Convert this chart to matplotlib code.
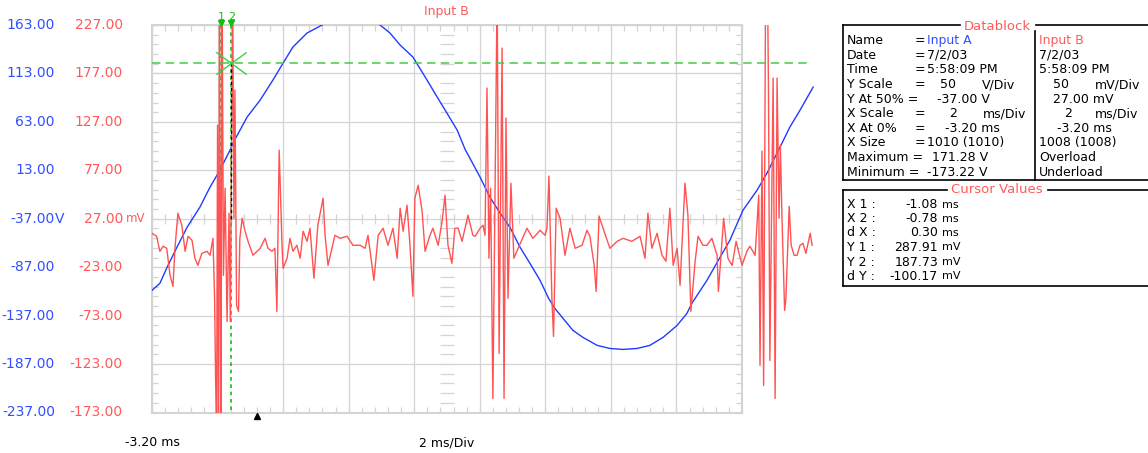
import numpy as np
import matplotlib

matplotlib.use("Agg")
import matplotlib.pyplot as plt  # noqa: E402
from matplotlib.lines import Line2D  # noqa: E402
from matplotlib.patches import Rectangle  # noqa: E402
from matplotlib.path import Path  # noqa: E402

W, H = 1148, 453

BLUE = "#1f3cff"
BLUE_TXT = "#3050ff"
RED = "#ff5252"
RED_TXT = "#ff5a5a"
GRID = "#d4d4d4"
GREEN = "#10c010"
GREEN_H = "#44cc44"
INK = "#000000"

# scope settings
X_START = -3.20
MS_PER_DIV = 2
N_XDIV = 9
V_AT_50 = -37.0
MV_AT_50 = 27.0
V_PER_DIV = 50
MV_PER_DIV = 50
N_YDIV = 8

blue_ticks = [163, 113, 63, 13, -37, -87, -137, -187, -237]
red_ticks = [227, 177, 127, 77, 27, -23, -73, -123, -173]

# Input A (V)
time_a = [-3.20, -2.96, -2.74, -2.44, -2.13, -1.74, -1.43, -1.13, -0.82, -0.73,
          -0.30, 0.10, 0.49, 0.80, 1.10, 1.53, 2.02, 2.44, 2.87, 3.30,
          3.76, 4.06, 4.37, 4.76, 5.19, 5.50, 5.80, 6.11, 6.35, 6.81,
          7.11, 7.42, 7.72, 8.03, 8.33, 8.64, 8.90, 9.09, 9.34, 9.64,
          9.95, 10.38, 10.77, 11.17, 11.60, 11.99, 12.39, 12.82, 13.12, 13.27,
          13.73, 14.13, 14.43, 14.83, 15.26, 15.56, 15.96, 16.26, 16.57, 16.97]
volt_a = [-110.9, -103.7, -87.1, -66.5, -45.8, -25.1, -4.4, 13.1, 33.8, 41.0,
          67.9, 85.5, 106.2, 123.7, 140.3, 154.7, 163.5, 169.5, 171.3, 169.0,
          163.0, 154.7, 142.3, 129.9, 106.2, 88.6, 72.0, 54.5, 34.8, 5.9,
          -14.8, -31.3, -45.8, -66.5, -83.0, -100.6, -119.2, -129.5, -139.8, -152.2,
          -159.5, -167.7, -170.9, -171.9, -170.9, -167.7, -159.5, -147.1, -134.7, -124.3,
          -100.6, -76.8, -59.2, -28.2, -7.5, 10.0, 36.9, 57.6, 75.1, 98.9]

# Input B (mV)
time_b = [
    -3.20, -3.06, -2.96, -2.86, -2.75, -2.65, -2.56, -2.50, -2.41, -2.29,
    -2.19, -2.10, -1.98, -1.89, -1.80, -1.68, -1.52, -1.43, -1.34,
    -1.29, -1.26, -1.23, -1.20, -1.17, -1.14, -1.10, -1.06, -1.02, -0.97,
    -0.91, -0.85, -0.81, -0.74, -0.70, -0.67, -0.62, -0.56, -0.52, -0.45, -0.36,
    -0.27, -0.12, 0.10, 0.25, 0.34, 0.46, 0.55, 0.61, 0.68, 0.77,
    0.80, 0.92, 1.01, 1.10, 1.22, 1.32, 1.41, 1.53, 1.62, 1.74,
    1.86, 2.02, 2.08, 2.17, 2.29, 2.38, 2.54, 2.75, 2.93, 3.15,
    3.30, 3.39, 3.57, 3.70, 3.85, 4.00, 4.15, 4.28, 4.37, 4.46,
    4.58, 4.67, 4.76, 4.82, 4.92, 5.04, 5.13, 5.28, 5.37, 5.53,
    5.65, 5.74, 5.83, 5.95, 6.04, 6.14, 6.26, 6.44, 6.59, 6.66,
    6.81, 6.90, 6.96,
    7.02, 7.08, 7.13, 7.20, 7.26, 7.33, 7.39, 7.48, 7.54, 7.60,
    7.66, 7.75, 7.84,
    7.97, 8.24, 8.42, 8.64, 8.79, 8.85, 8.91, 9.00, 9.05, 9.13,
    9.25, 9.40, 9.55, 9.71, 9.92, 10.07, 10.16, 10.29, 10.35, 10.44,
    10.56, 10.77, 10.99, 11.17, 11.44, 11.69, 11.84, 11.93, 12.05, 12.21,
    12.36, 12.48, 12.60, 12.70, 12.82, 12.91, 13.06, 13.15, 13.24, 13.37,
    13.46, 13.61, 13.73, 13.88, 14.04, 14.08, 14.19, 14.24, 14.37, 14.50,
    14.62, 14.80, 14.95, 15.04, 15.20,
    15.31, 15.35, 15.41, 15.46, 15.52, 15.58, 15.61, 15.65, 15.75, 15.81,
    15.87, 15.93, 15.97, 16.02, 16.10, 16.14, 16.24, 16.30, 16.39, 16.48,
    16.57, 16.66, 16.75, 16.88, 16.94,
]
mv_b = [
    12.0, 8.9, -6.6, -1.4, -3.5, -31.4, -42.8, -3.5, 32.7, 20.3,
    -6.6, 8.9, 4.7, -13.8, -21.1, -8.7, -6.6, -10.7, 6.8,
    -55.2, -137.9, -200.0, 123.6, -200.0, 265.0, -220.0, 270.0, -31.4, 58.5,
    -79.0, 32.7, -79.0, 265.0, 27.5, 159.8, -62.4, -68.6, 6.8, 27.5, 14.1,
    3.7, -10.7, -3.5, 6.8, -3.5, -6.6, -3.5, -68.6, 97.8, -3.5,
    -24.2, -13.8, 6.8, -6.6, -0.4, -13.8, 14.1, 3.7, 17.2, -34.5,
    20.3, 48.2, 9.9, -21.1, -3.5, 9.9, 6.8, 8.9, -0.4, -0.4,
    -3.5, 9.9, -36.6, 9.9, 17.2, -0.4, 17.2, -13.8, 37.9, 14.1,
    41.0, -0.4, -53.1, 48.2, 61.6, 34.8, -6.6, 9.9, 17.2, -0.4,
    24.4, 51.3, -0.4, -19.0, 17.2, 17.2, 3.7, 30.6, 9.9, 8.9,
    17.2, 20.3, 9.9,
    161.9, -13.8, 58.5, -158.5, 37.9, 265.0, -112.0, 203.2, -158.5, 130.9,
    -55.2, 63.7, -13.8,
    -3.5, 17.2, 6.8, 15.1, 9.9, 17.2, 71.0, -55.2, -94.5, 37.9,
    27.5, -10.7, 17.2, -3.5, -0.4, 15.1, 8.9, -21.1, -48.0, 29.6,
    17.2, -3.5, 3.7, 6.8, 3.7, 8.9, -13.8, 32.7, -3.5, 12.0,
    -10.7, -16.9, 37.9, -21.1, -3.5, -41.7, 63.7, 30.6, -68.6, -16.9,
    8.9, -0.4, -0.4, 6.8, -10.7, -48.0, 3.7, 27.5, -13.8, -21.1,
    3.7, -21.1, -6.6, -1.4, -10.7,
    51.3, -124.4, 96.8, -145.1, 265.0, 265.0, 148.4, -119.3, 172.2, -158.5,
    172.2, 27.5, 103.0, 27.5, -67.6, -55.2, 39.9, -0.4, -10.7, -10.7,
    -0.4, 1.7, -8.7, 12.0, -0.4,
]

# cursors
cursor_x = [-1.08, -0.78]
cursor_y = [287.91, 187.73]
trigger_t = 0.0

# datablock text
block_rows = ["Name", "Date", "Time", "Y Scale", "Y At 50% =", "X Scale", "X At 0%",
              "X Size", "Maximum =", "Minimum ="]
cursor_rows = ["X 1 :", "X 2 :", "d X :", "Y 1 :", "Y 2 :", "d Y :"]
cursor_vals = ["-1.08", "-0.78", "0.30", "287.91", "187.73", "-100.17"]
cursor_units = ["ms", "ms", "ms", "mV", "mV", "mV"]

plt.rcParams["font.family"] = ["DejaVu Sans"]


def fx(x):
    return x / W


def fy(y):
    return 1 - y / H


fig = plt.figure(figsize=(W / 100, H / 100), dpi=100, facecolor="white")
ax = fig.add_axes([fx(152), fy(412.5), 590 / W, 387.5 / H])
x_end = X_START + N_XDIV * MS_PER_DIV
ax.set_xlim(X_START, x_end)
ax.set_ylim(V_AT_50 - N_YDIV / 2 * V_PER_DIV, V_AT_50 + N_YDIV / 2 * V_PER_DIV)
axr = ax.twinx()
axr.set_ylim(MV_AT_50 - N_YDIV / 2 * MV_PER_DIV, MV_AT_50 + N_YDIV / 2 * MV_PER_DIV)
axr.set_axis_off()

xmaj = X_START + np.arange(N_XDIV + 1) * MS_PER_DIV
xmin = X_START + np.arange(N_XDIV * 5 + 1) * MS_PER_DIV / 5
ymin_v = blue_ticks[-1] + np.arange(N_YDIV * 5 + 1) * V_PER_DIV / 5
ax.set_xticks(xmaj)
ax.set_xticks(xmin, minor=True)
ax.set_yticks(blue_ticks)
ax.set_yticks(ymin_v, minor=True)
ax.grid(True, which="major", color=GRID, lw=0.9, zorder=0)
ax.tick_params(which="both", direction="in", top=True, right=True, length=4,
               width=0.9, color=GRID, labelbottom=False, labelleft=False)
for sp in ax.spines.values():
    sp.set_color(GRID)
    sp.set_linewidth(1.5)

# ticks along the centre axes
x_mid = X_START + N_XDIV * MS_PER_DIV / 2
ax.plot(xmin, [V_AT_50] * len(xmin), ls="none", marker="|", ms=7, mew=0.9,
        color=GRID, zorder=1)
ax.plot([x_mid] * len(ymin_v), ymin_v, ls="none", marker="_", ms=10, mew=0.9,
        color=GRID, zorder=1)

# traces run a bit past the right edge of the grid
(blue_line,) = ax.plot(time_a, volt_a, color=BLUE, lw=1.0, zorder=3)
blue_line.set_clip_path(Rectangle((0, 0), 1.13, 1, transform=ax.transAxes))
(red_line,) = axr.plot(time_b, mv_b, color=RED, lw=1.0, zorder=2)
red_line.set_clip_path(Rectangle((0, 0), 1.13, 1, transform=axr.transAxes))

# cursors
for i, cx in enumerate(cursor_x):
    ax.axvline(cx, ymin=0.006, ymax=1.0, color=GREEN, lw=1.2, ls=(0, (2.2, 2.2)),
               clip_on=False, zorder=5)
    ax.plot(cx, 1.004, marker="v", ms=4, color=GREEN, transform=ax.get_xaxis_transform(),
            clip_on=False, zorder=5)
    ax.annotate(str(i + 1), xy=(cx, 1), xycoords=ax.get_xaxis_transform(), xytext=(0, 6),
                textcoords="offset points", ha="center", va="center", color=GREEN,
                fontsize=8, annotation_clip=False)
axr.axhline(cursor_y[1], xmin=0, xmax=(807 - 152) / 590, color=GREEN_H, lw=1.1,
            ls=(0, (5.5, 3.5)), clip_on=False, zorder=5)
axr.plot([cursor_x[1]] * 2, [cursor_y[1], MV_AT_50], color=INK, lw=1.0,
         ls=(0, (2.2, 2.2)), zorder=6)
xmark = Path([(-1, -0.73), (1, 0.73), (-1, 0.73), (1, -0.73)],
             [Path.MOVETO, Path.LINETO, Path.MOVETO, Path.LINETO])
axr.plot(cursor_x[1], cursor_y[1], marker=xmark, ms=22, mew=1.0, color=GREEN_H,
         mfc="none", zorder=6)

# trigger mark
ax.plot(trigger_t, -0.008, marker="^", ms=4.5, color=INK,
        transform=ax.get_xaxis_transform(), clip_on=False, zorder=5)

# y labels
for v in blue_ticks:
    ax.annotate(f"{v:.2f}", xy=(0, v), xycoords=ax.get_yaxis_transform(),
                xytext=(-(152 - 55) * 0.72, 0), textcoords="offset points",
                ha="right", va="center", color=BLUE_TXT, fontsize=10,
                annotation_clip=False)
ax.annotate("V", xy=(0, V_AT_50), xycoords=ax.get_yaxis_transform(),
            xytext=(-(152 - 55) * 0.72, 0), textcoords="offset points",
            ha="left", va="center", color=BLUE_TXT, fontsize=10, annotation_clip=False)
for v in red_ticks:
    axr.annotate(f"{v:.2f}", xy=(0, v), xycoords=axr.get_yaxis_transform(),
                 xytext=(-(152 - 123) * 0.72, 0), textcoords="offset points",
                 ha="right", va="center", color=RED_TXT, fontsize=10,
                 annotation_clip=False)
axr.annotate("mV", xy=(0, MV_AT_50), xycoords=axr.get_yaxis_transform(),
             xytext=(-(152 - 126) * 0.72, 0), textcoords="offset points",
             ha="left", va="center", color=RED_TXT, fontsize=8.5, annotation_clip=False)

fig.text(fx(152), fy(443), f"{X_START:.2f} ms", ha="center", va="center", fontsize=9)
fig.text(fx(447), fy(443), f"{MS_PER_DIV} ms/Div", ha="center", va="center", fontsize=9)
fig.text(fx(446), fy(12), "Input B", ha="center", va="center", fontsize=9, color=RED_TXT)


def seg(x0, y0, x1, y1):
    fig.add_artist(Line2D([fx(x0), fx(x1)], [fy(y0), fy(y1)], color=INK, lw=1.2,
                          transform=fig.transFigure))


def txt(x, y, s, color=INK, size=9, ha="left"):
    fig.text(fx(x), fy(y), s, ha=ha, va="center", fontsize=size, color=color)


# Datablock panel
seg(843, 25, 960, 25)
seg(1036, 25, 1148, 25)
seg(843, 25, 843, 180)
seg(843, 180, 1148, 180)
seg(1035, 31, 1035, 180)
txt(997, 26, "Datablock", RED_TXT, size=9.5, ha="center")

row_y = [40.7 + 14.6 * i for i in range(len(block_rows))]
for y, label in zip(row_y, block_rows):
    txt(847, y, label)
for i in (0, 1, 2, 3, 5, 6, 7):
    txt(915, row_y[i], "=")
txt(927, row_y[0], "Input A", BLUE_TXT)
txt(927, row_y[1], "7/2/03")
txt(927, row_y[2], "5:58:09 PM")
txt(940, row_y[3], f"{V_PER_DIV}")
txt(982, row_y[3], "V/Div")
txt(937, row_y[4], f"{V_AT_50:.2f} V")
txt(949, row_y[5], f"{MS_PER_DIV}")
txt(983, row_y[5], "ms/Div")
txt(945, row_y[6], f"{X_START:.2f} ms")
txt(927, row_y[7], "1010 (1010)")
txt(932, row_y[8], "171.28 V")
txt(927, row_y[9], "-173.22 V")

txt(1039, row_y[0], "Input B", RED_TXT)
txt(1039, row_y[1], "7/2/03")
txt(1039, row_y[2], "5:58:09 PM")
txt(1053, row_y[3], f"{MV_PER_DIV}")
txt(1095, row_y[3], "mV/Div")
txt(1053, row_y[4], f"{MV_AT_50:.2f} mV")
txt(1064, row_y[5], f"{MS_PER_DIV}")
txt(1095, row_y[5], "ms/Div")
txt(1057, row_y[6], f"{X_START:.2f} ms")
txt(1039, row_y[7], "1008 (1008)")
txt(1039, row_y[8], "Overload")
txt(1039, row_y[9], "Underload")

# Cursor Values panel
seg(843, 190, 947, 190)
seg(1048, 190, 1148, 190)
seg(843, 190, 843, 286)
seg(843, 286, 1148, 286)
txt(997, 190, "Cursor Values", RED_TXT, size=9.5, ha="center")
cur_y = [204.5, 219, 233, 247.5, 262, 276]
for y, label, val, unit in zip(cur_y, cursor_rows, cursor_vals, cursor_units):
    txt(847, y, label)
    txt(938, y, val, ha="right")
    txt(942, y, unit, size=8)

fig.savefig("out.png", dpi=100, facecolor="white")
